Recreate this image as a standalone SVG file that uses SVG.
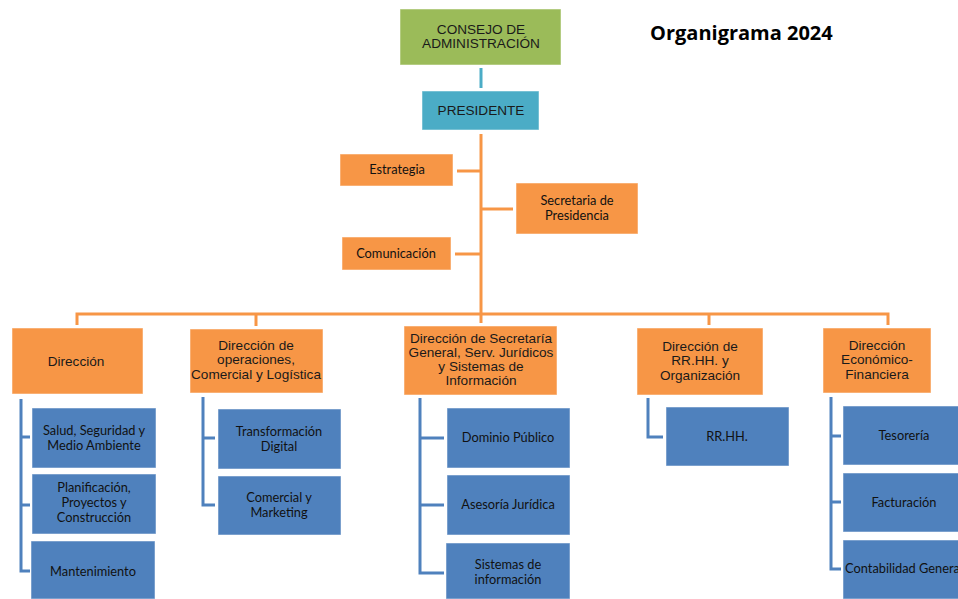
<svg xmlns="http://www.w3.org/2000/svg" width="958" height="599" viewBox="0 0 958 599">
<style>
.g{fill:#9BBB59}
.c{fill:#4BACC6}
.o{fill:#F79646}
.b{fill:#4F81BD}
.box{stroke:#ffffff;stroke-opacity:0.5;stroke-width:1}
.ta{font-family:"Liberation Sans",Arial,sans-serif;font-size:13.6px;fill:#1a1a1a;text-anchor:middle}
.tc{font-family:Lato,"Liberation Sans",sans-serif;font-size:12.8px;fill:#111;text-anchor:middle}
.lo{stroke:#F79646;stroke-width:3;fill:none}
.lb{stroke:#4F81BD;stroke-width:3;fill:none}
.lc{stroke:#4BACC6;stroke-width:3;fill:none}
.title{font-family:"Open Sans","Liberation Sans",sans-serif;font-weight:bold;font-size:20px;fill:#000}
</style>
<rect width="958" height="599" fill="#fff"/>
<text class="title" x="650" y="40">Organigrama 2024</text>
<g id="connectors">
<line class="lc" x1="481" y1="68" x2="481" y2="88"/>
<line class="lo" x1="481" y1="134" x2="481" y2="315"/>
<line class="lo" x1="457" y1="171" x2="480" y2="171"/>
<line class="lo" x1="482" y1="209" x2="513" y2="209"/>
<line class="lo" x1="455" y1="254" x2="480" y2="254"/>
<polyline class="lo" points="77,325 77,314 888,314 888,325"/>
<line class="lo" x1="256" y1="314" x2="256" y2="326"/>
<line class="lo" x1="481" y1="314" x2="481" y2="323"/>
<line class="lo" x1="709" y1="314" x2="709" y2="325"/>
<polyline class="lb" points="21,399 21,571 30,571"/>
<line class="lb" x1="21" y1="437" x2="30" y2="437"/>
<line class="lb" x1="21" y1="505" x2="30" y2="505"/>
<polyline class="lb" points="203,397 203,505 215,505"/>
<line class="lb" x1="203" y1="438" x2="215" y2="438"/>
<polyline class="lb" points="420,398 420,573 444,573"/>
<line class="lb" x1="420" y1="438" x2="444" y2="438"/>
<line class="lb" x1="420" y1="505" x2="444" y2="505"/>
<polyline class="lb" points="648,398 648,437 663,437"/>
<polyline class="lb" points="831,397 831,569 841,569"/>
<line class="lb" x1="831" y1="436" x2="841" y2="436"/>
<line class="lb" x1="831" y1="502" x2="841" y2="502"/>
</g>
<g id="consejo"><rect class="g box" x="400" y="9" width="161" height="56"/><text class="ta" x="481" y="34" font-size="14.5">CONSEJO DE</text><text class="ta" x="481" y="48" font-size="14.5">ADMINISTRACIÓN</text></g>
<g id="presidente"><rect class="c box" x="422" y="91" width="117" height="39"/><text class="ta" x="481" y="115" font-size="14.5">PRESIDENTE</text></g>
<g id="estrategia"><rect class="o box" x="340" y="154" width="113" height="32"/><text class="tc" x="397" y="174">Estrategia</text></g>
<g id="secretaria"><rect class="o box" x="516" y="183" width="122" height="51"/><text class="tc" x="577" y="205">Secretaria de</text><text class="tc" x="577" y="220">Presidencia</text></g>
<g id="comunicacion"><rect class="o box" x="342" y="237" width="109" height="33"/><text class="tc" x="396" y="258">Comunicación</text></g>
<g id="direccion"><rect class="o box" x="12" y="328" width="131" height="66"/><text class="ta" x="76" y="366">Dirección</text></g>
<g id="dir-operaciones"><rect class="o box" x="190" y="329" width="133" height="64"/><text class="ta" x="256" y="350">Dirección de</text><text class="ta" x="256" y="364">operaciones,</text><text class="ta" x="256" y="379">Comercial y Logística</text></g>
<g id="dir-secretaria"><rect class="o box" x="404" y="326" width="153" height="69"/><text class="ta" x="481" y="343">Dirección de Secretaría</text><text class="ta" x="481" y="357">General, Serv. Jurídicos</text><text class="ta" x="481" y="371">y Sistemas de</text><text class="ta" x="481" y="385">Información</text></g>
<g id="dir-rrhh"><rect class="o box" x="637" y="328" width="126" height="67"/><text class="ta" x="700" y="351">Dirección de</text><text class="ta" x="700" y="365">RR.HH. y</text><text class="ta" x="700" y="380">Organización</text></g>
<g id="dir-economico"><rect class="o box" x="823" y="328" width="108" height="65"/><text class="ta" x="877" y="350">Dirección</text><text class="ta" x="877" y="364">Económico-</text><text class="ta" x="877" y="379">Financiera</text></g>
<g id="salud"><rect class="b box" x="32" y="408" width="124" height="60"/><text class="tc" x="94" y="435">Salud, Seguridad y</text><text class="tc" x="94" y="450">Medio Ambiente</text></g>
<g id="planificacion"><rect class="b box" x="32" y="474" width="124" height="60"/><text class="tc" x="94" y="492">Planificación,</text><text class="tc" x="94" y="507">Proyectos y</text><text class="tc" x="94" y="522">Construcción</text></g>
<g id="mantenimiento"><rect class="b box" x="31" y="541" width="124" height="58"/><text class="tc" x="93" y="576">Mantenimiento</text></g>
<g id="transformacion"><rect class="b box" x="218" y="409" width="123" height="60"/><text class="tc" x="279" y="436">Transformación</text><text class="tc" x="279" y="451">Digital</text></g>
<g id="comercial"><rect class="b box" x="218" y="476" width="123" height="59"/><text class="tc" x="279" y="502">Comercial y</text><text class="tc" x="279" y="517">Marketing</text></g>
<g id="dominio"><rect class="b box" x="447" y="408" width="123" height="60"/><text class="tc" x="508" y="442">Dominio Público</text></g>
<g id="asesoria"><rect class="b box" x="447" y="475" width="123" height="60"/><text class="tc" x="508" y="509">Asesoría Jurídica</text></g>
<g id="sistemas"><rect class="b box" x="446" y="543" width="124" height="56"/><text class="tc" x="508" y="569">Sistemas de</text><text class="tc" x="508" y="584">información</text></g>
<g id="rrhh"><rect class="b box" x="666" y="407" width="123" height="59"/><text class="tc" x="727" y="441">RR.HH.</text></g>
<g id="tesoreria"><rect class="b box" x="843" y="406" width="124" height="59"/><text class="tc" x="904" y="440">Tesorería</text></g>
<g id="facturacion"><rect class="b box" x="843" y="473" width="124" height="59"/><text class="tc" x="904" y="507">Facturación</text></g>
<g id="contabilidad"><rect class="b box" x="843" y="540" width="124" height="59"/><text class="tc" x="904" y="573">Contabilidad General</text></g>
</svg>
